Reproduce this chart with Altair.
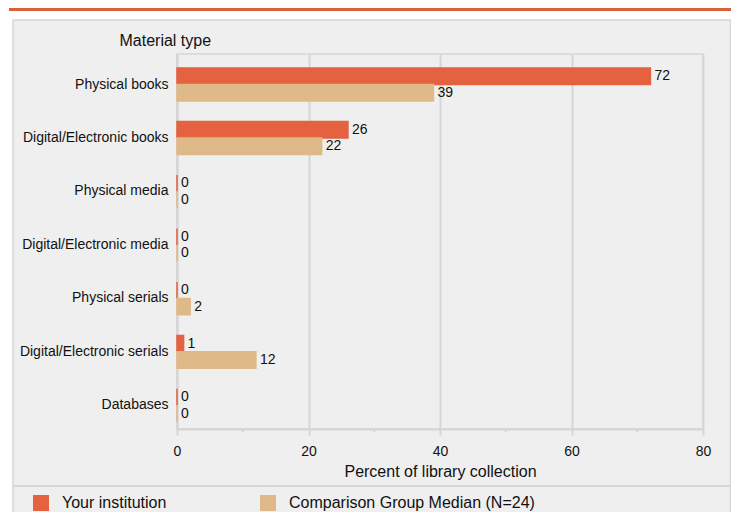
import altair as alt
import pandas as pd

categories = ["Physical books", "Digital/Electronic books", "Physical media",
              "Digital/Electronic media", "Physical serials",
              "Digital/Electronic serials", "Databases"]
series_names = ["Your institution", "Comparison Group Median (N=24)"]
institution = [72, 26, 0, 0, 0, 1, 0]
comparison = [39, 22, 0, 0, 2, 12, 0]
major_ticks = [0, 20, 40, 60, 80]
minor_ticks = [10, 30, 50, 70]

ORANGE = "#E46240"
TAN = "#DFB987"
BG = "#EFEFEF"
GRID = "#D6D6D6"
FONT = "Liberation Sans"

rows = []
for c, a, b in zip(categories, institution, comparison):
    rows.append({"cat": c, "series": series_names[0], "value": a})
    rows.append({"cat": c, "series": series_names[1], "value": b})
df = pd.DataFrame(rows)

W, H = 526, 375

xscale = alt.Scale(domain=[0, 80], nice=False)
yscale = alt.Scale(paddingInner=0.385, paddingOuter=0.2, align=0.66)

base = alt.Chart(df)

bars = base.mark_bar(strokeWidth=1.5).encode(
    y=alt.Y("cat:N", sort=categories, scale=yscale,
            axis=alt.Axis(title="Material type", titleAngle=0, titleAlign="left",
                          titleBaseline="middle", titleX=-58, titleY=-14,
                          titleFontSize=16, titleFontWeight="normal", titleColor="#111",
                          titleFont=FONT, labelFont=FONT, labelFontSize=14,
                          labelColor="#111", ticks=False, labelPadding=9,
                          labelLimit=0,
                          domainColor=GRID, domainWidth=2, grid=False)),
    yOffset=alt.YOffset("series:N", sort=series_names),
    x=alt.X("value:Q", scale=xscale,
            axis=alt.Axis(title="Percent of library collection", values=major_ticks,
                          grid=True, gridColor=GRID, gridWidth=2,
                          domainColor=GRID, domainWidth=2,
                          tickColor=GRID, tickWidth=2, tickSize=6,
                          labelFont=FONT, labelFontSize=14, labelColor="#111",
                          labelPadding=9, labelFlush=False,
                          titleFont=FONT, titleFontSize=16,
                          titleFontWeight="normal", titleColor="#111",
                          titlePadding=5)),
    color=alt.Color("series:N", sort=series_names,
                    scale=alt.Scale(domain=series_names, range=[ORANGE, TAN]),
                    legend=alt.Legend(title=None, orient="none", legendX=-144,
                                      legendY=441, direction="horizontal",
                                      symbolType="square", symbolSize=256,
                                      symbolStrokeWidth=0, labelFont=FONT,
                                      labelFontSize=16, labelColor="#111",
                                      labelLimit=0,
                                      labelOffset=13, columnPadding=93, padding=0)),
    stroke=alt.Color("series:N", sort=series_names,
                     scale=alt.Scale(domain=series_names, range=[ORANGE, TAN]),
                     legend=None),
)

labels = base.mark_text(align="left", baseline="middle", dx=4, font=FONT,
                        fontSize=14, color="#111").encode(
    y=alt.Y("cat:N", sort=categories, scale=yscale),
    yOffset=alt.YOffset("series:N", sort=series_names),
    x=alt.X("value:Q", scale=xscale),
    text=alt.Text("value:Q"),
)

minor = alt.Chart(pd.DataFrame({"v": minor_ticks})).mark_rule(
    color=GRID, strokeWidth=2).encode(
    x=alt.X("v:Q", scale=xscale),
    y=alt.value(H), y2=alt.value(H + 3),
)

one = pd.DataFrame({"a": [0]})
white_top = alt.Chart(one).mark_rect(color="white").encode(
    x=alt.value(-170), x2=alt.value(560), y=alt.value(-47), y2=alt.value(-34))
white_left = alt.Chart(one).mark_rect(color="white").encode(
    x=alt.value(-170), x2=alt.value(-164), y=alt.value(-47), y2=alt.value(460))
orange_rule = alt.Chart(one).mark_rect(color="#D9603B").encode(
    x=alt.value(-168), x2=alt.value(560), y=alt.value(-47), y2=alt.value(-43))
border_top = alt.Chart(one).mark_rule(color=GRID, strokeWidth=1.5).encode(
    x=alt.value(-164), x2=alt.value(554), y=alt.value(-34))
border_left = alt.Chart(one).mark_rule(color=GRID, strokeWidth=1.5).encode(
    x=alt.value(-164), y=alt.value(-34), y2=alt.value(460))
border_right = alt.Chart(one).mark_rule(color=GRID, strokeWidth=1.5).encode(
    x=alt.value(553.5), y=alt.value(-34), y2=alt.value(460))
separator = alt.Chart(one).mark_rule(color=GRID, strokeWidth=2).encode(
    x=alt.value(-164), x2=alt.value(554), y=alt.value(432))

chart = alt.layer(
    bars, labels, minor, white_top, white_left, orange_rule,
    border_top, border_left, border_right, separator
).properties(
    width=W, height=H,
    background=BG,
    padding={"left": 169, "top": 46, "right": 28, "bottom": 83},
    autosize=alt.AutoSizeParams(type="none"),
).configure_view(
    stroke=GRID, strokeWidth=1.5, fill=BG
).resolve_scale(color="shared")

chart.save("out.html", embed_options={"renderer": "svg", "actions": False})
